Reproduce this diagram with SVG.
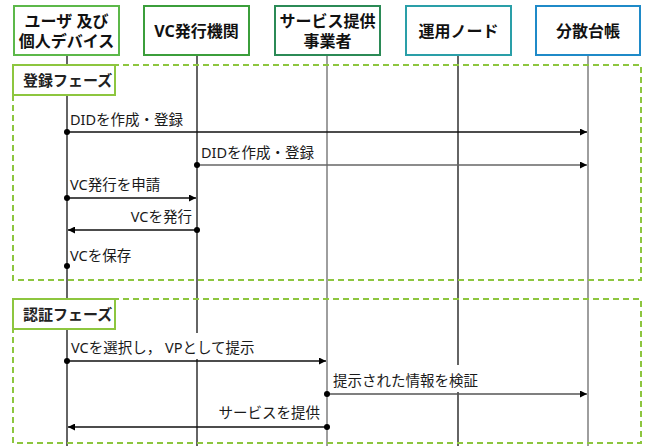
<svg xmlns="http://www.w3.org/2000/svg" width="645" height="446" viewBox="0 0 645 446">
<style>
.hdr{font-family:"Noto Sans","Noto Sans CJK JP",sans-serif;font-size:16px;font-weight:bold;fill:#111;text-anchor:middle}
.box{fill:#fff;stroke-width:2}
.life{stroke-width:1.3;fill:none}
.frame{fill:none;stroke:#8dc63f;stroke-width:2;stroke-dasharray:6,4}
.flab{fill:#fff;stroke:#8dc63f;stroke-width:2}
.ftxt{font-family:"Noto Sans","Noto Sans CJK JP",sans-serif;font-size:15px;font-weight:bold;fill:#222}
.msg{stroke-width:1.3;fill:none}
.lbl{font-family:"Noto Sans","Noto Sans CJK JP",sans-serif;font-size:14.5px;fill:#1a1a1a}
.dot{fill:#000}
</style>
<defs>
<marker id="ah" viewBox="0 0 10 10" refX="10" refY="5" markerWidth="7" markerHeight="7" markerUnits="userSpaceOnUse" orient="auto">
<path d="M0,0 L10,5 L0,10 z" fill="#000"/>
</marker>
</defs>
<g id="lifelines">
<line class="life" x1="67" y1="55" x2="67" y2="446" stroke="#111"/>
<line class="life" x1="197" y1="55" x2="197" y2="446" stroke="#111"/>
<line class="life" x1="327" y1="55" x2="327" y2="446" stroke="#6a6a6a"/>
<line class="life" x1="458" y1="55" x2="458" y2="446" stroke="#111"/>
<line class="life" x1="588" y1="55" x2="588" y2="446" stroke="#6a6a6a"/>
</g>
<g id="frame-register">
<rect class="frame" x="13" y="65" width="628" height="215"/>
<rect class="flab" x="13" y="65" width="102" height="30"/>
<text class="ftxt" x="23" y="86">登録フェーズ</text>
</g>
<g id="frame-auth">
<rect class="frame" x="13" y="299" width="628" height="144"/>
<rect class="flab" x="13" y="299" width="102" height="30"/>
<text class="ftxt" x="23" y="320">認証フェーズ</text>
</g>
<g id="node-user">
<rect class="box" x="14" y="6" width="105" height="49" stroke="#5cb84a"/>
<text class="hdr" x="66.5" y="27">ユーザ 及び</text>
<text class="hdr" x="66.5" y="47">個人デバイス</text>
</g>
<g id="node-issuer">
<rect class="box" x="144" y="6" width="105" height="49" stroke="#3b9e3b"/>
<text class="hdr" x="196.5" y="37">VC発行機関</text>
</g>
<g id="node-service">
<rect class="box" x="275" y="6" width="105" height="49" stroke="#2b8a56"/>
<text class="hdr" x="327.5" y="27">サービス提供</text>
<text class="hdr" x="327.5" y="47">事業者</text>
</g>
<g id="node-node">
<rect class="box" x="406" y="6" width="105" height="49" stroke="#2a9fa8"/>
<text class="hdr" x="458.5" y="37">運用ノード</text>
</g>
<g id="node-ledger">
<rect class="box" x="536" y="6" width="104" height="49" stroke="#1f8ac8"/>
<text class="hdr" x="588" y="37">分散台帳</text>
</g>
<g id="connectors">
<line class="msg" x1="67" y1="132" x2="587" y2="132" stroke="#111" marker-end="url(#ah)"/>
<circle class="dot" cx="67" cy="132" r="3"/>
<text class="lbl" x="70" y="125">DIDを作成・登録</text>

<line class="msg" x1="197" y1="165" x2="587" y2="165" stroke="#666" marker-end="url(#ah)"/>
<circle class="dot" cx="197" cy="165" r="3"/>
<text class="lbl" x="201" y="158">DIDを作成・登録</text>

<line class="msg" x1="67" y1="198" x2="196" y2="198" stroke="#111" marker-end="url(#ah)"/>
<circle class="dot" cx="67" cy="198" r="3"/>
<text class="lbl" x="70" y="190">VC発行を申請</text>

<line class="msg" x1="197" y1="230" x2="68" y2="230" stroke="#111" marker-end="url(#ah)"/>
<circle class="dot" cx="197" cy="230" r="3"/>
<text class="lbl" x="192" y="222" text-anchor="end">VCを発行</text>

<circle class="dot" cx="67" cy="266" r="3"/>
<text class="lbl" x="70" y="261">VCを保存</text>

<rect x="69" y="333" width="192" height="26" fill="#fff"/>
<line class="msg" x1="67" y1="361" x2="326" y2="361" stroke="#111" marker-end="url(#ah)"/>
<circle class="dot" cx="67" cy="361" r="3"/>
<text class="lbl" x="71" y="353">VCを選択し， VPとして提示</text>

<rect x="331" y="365" width="170" height="27" fill="#fff"/>
<line class="msg" x1="327" y1="394" x2="587" y2="394" stroke="#555" marker-end="url(#ah)"/>
<circle class="dot" cx="327" cy="394" r="3"/>
<text class="lbl" x="333" y="386">提示された情報を検証</text>

<line class="msg" x1="327" y1="427" x2="68" y2="427" stroke="#111" marker-end="url(#ah)"/>
<circle class="dot" cx="327" cy="427" r="3"/>
<text class="lbl" x="320" y="418" text-anchor="end">サービスを提供</text>
</g>
</svg>
